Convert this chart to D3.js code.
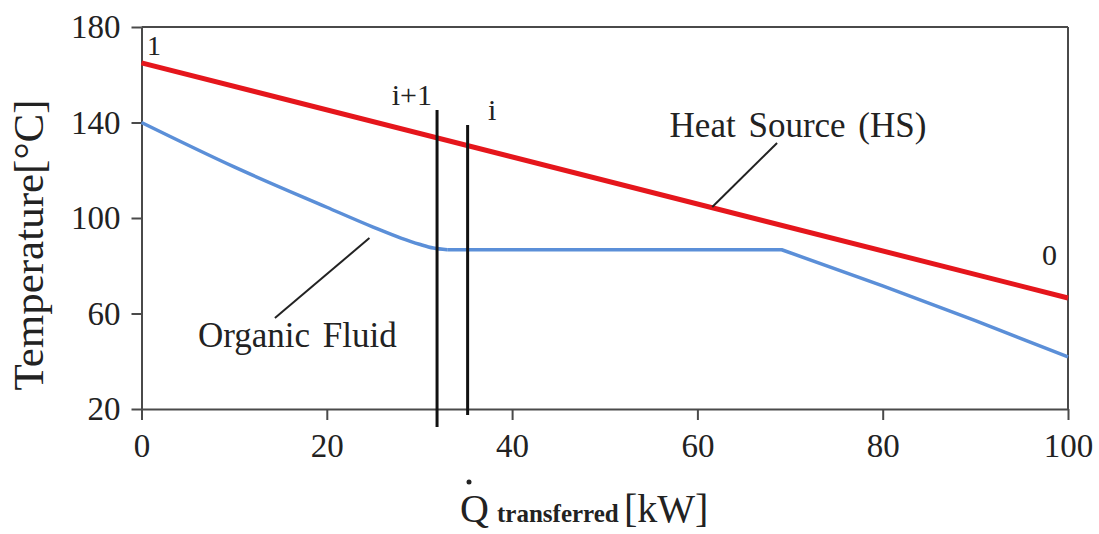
<!DOCTYPE html>
<html>
<head>
<meta charset="utf-8">
<script src="https://cdn.jsdelivr.net/npm/d3@7"></script>
<style>
  body { margin: 0; background: #fff; }
  text { font-family: 'Liberation Serif', 'Times New Roman', serif; fill: #222; }
</style>
</head>
<body>
<svg id="chart"></svg>
<script>
var width = 1099,
    height = 534

// axis ticks
var xTicks = [0, 20, 40, 60, 80, 100]
var yTicks = [20, 60, 100, 140, 180]

// heat source (red), straight line from state 1 to state 0
var hsQ = [0, 100]
var hsT = [165, 66.5]

// organic fluid (blue): curved preheating part, then evaporation plateau and superheat
var ofCurveQ = [0, 10, 20, 25, 28, 30, 31.5, 33]
var ofCurveT = [140, 121.4, 104.5, 96.2, 91.6, 89, 87.4, 86.7]
var ofRestQ = [33, 69.1, 80, 90, 100]
var ofRestT = [86.7, 86.7, 71.6, 57, 41.8]

// vertical markers i+1 and i : q, top T, bottom T
var markQ = [31.9, 35.2]
var markTop = [145.2, 139]
var markBottom = [12.5, 17.5]

var svg = d3.select("#chart")
    .attr("width", width)
    .attr("height", height)

var margin = {left: 141.5, right: 31, top: 27, bottom: 125}

var x = d3.scaleLinear()
    .domain([0, 100])
    .range([margin.left, width - margin.right])
var y = d3.scaleLinear()
    .domain([20, 180])
    .range([height - margin.bottom, margin.top])

var axisColor = "#4a4a4a"

// box (top and right)
svg.append("line")
    .attr("x1", x(0)).attr("x2", x(100))
    .attr("y1", y(180)).attr("y2", y(180))
    .attr("stroke", axisColor).attr("stroke-width", 2)
svg.append("line")
    .attr("x1", x(100)).attr("x2", x(100))
    .attr("y1", y(180)).attr("y2", y(20))
    .attr("stroke", axisColor).attr("stroke-width", 2)

svg.append("g")
    .attr("transform", "translate(0," + y(20) + ")")
    .call(d3.axisBottom(x).tickValues(xTicks).tickSize(11).tickPadding(14).tickSizeOuter(0))
svg.append("g")
    .attr("transform", "translate(" + x(0) + ",0)")
    .call(d3.axisLeft(y).tickValues(yTicks).tickSize(10).tickPadding(11).tickSizeOuter(0))

svg.selectAll(".domain, .tick line")
    .attr("stroke", axisColor)
    .attr("stroke-width", 2)
svg.selectAll(".tick text")
    .style("font-family", "'Liberation Serif', serif")
    .attr("font-size", 33)
    .attr("fill", "#222")

// axis titles
svg.append("text")
    .attr("transform", "translate(43,245) rotate(-90)")
    .attr("text-anchor", "middle")
    .attr("font-size", 43)
    .text("Temperature[°C]")

svg.append("text").attr("x", 460).attr("y", 522).attr("font-size", 40).text("Q")
svg.append("circle").attr("cx", 469).attr("cy", 482).attr("r", 2.5).attr("fill", "#222")
svg.append("text").attr("x", 497).attr("y", 522).attr("font-size", 25)
    .attr("font-weight", "bold").text("transferred")
svg.append("text").attr("x", 624).attr("y", 522).attr("font-size", 40).text("[kW]")

var smooth = d3.line()
    .x(function (d) { return x(d[0]) })
    .y(function (d) { return y(d[1]) })
    .curve(d3.curveMonotoneX)
var line = d3.line()
    .x(function (d) { return x(d[0]) })
    .y(function (d) { return y(d[1]) })

// organic fluid
svg.append("path")
    .datum(d3.zip(ofCurveQ, ofCurveT))
    .attr("d", smooth)
    .attr("fill", "none")
    .attr("stroke", "#5b8fd8")
    .attr("stroke-width", 3.5)
svg.append("path")
    .datum(d3.zip(ofRestQ, ofRestT))
    .attr("d", line)
    .attr("fill", "none")
    .attr("stroke", "#5b8fd8")
    .attr("stroke-width", 3.5)
    .attr("stroke-linejoin", "round")

// heat source
svg.append("path")
    .datum(d3.zip(hsQ, hsT))
    .attr("d", line)
    .attr("fill", "none")
    .attr("stroke", "#e5161c")
    .attr("stroke-width", 5)

// vertical markers
svg.selectAll(".marker")
    .data(markQ)
    .enter().append("line")
    .attr("class", "marker")
    .attr("x1", function (d) { return x(d) })
    .attr("x2", function (d) { return x(d) })
    .attr("y1", function (d, i) { return y(markTop[i]) })
    .attr("y2", function (d, i) { return y(markBottom[i]) })
    .attr("stroke", "#111")
    .attr("stroke-width", 3)

// leader lines for the labels
var leaders = [
    [[68.6, 131.4], [61.6, 104.6]],
    [[14.4, 58.1], [24.6, 91.6]]
]
svg.selectAll(".leader")
    .data(leaders)
    .enter().append("line")
    .attr("class", "leader")
    .attr("x1", function (d) { return x(d[0][0]) })
    .attr("y1", function (d) { return y(d[0][1]) })
    .attr("x2", function (d) { return x(d[1][0]) })
    .attr("y2", function (d) { return y(d[1][1]) })
    .attr("stroke", "#222")
    .attr("stroke-width", 2)

// labels
var labelText = ["1", "i+1", "i", "Heat Source (HS)", "0", "Organic Fluid"]
var labelQ = [0.6, 27.0, 37.4, 57.0, 97.2, 6.1]
var labelT = [168.3, 147.3, 141, 133.9, 80.3, 46]
var labelSize = [28, 30, 30, 35, 30, 35]

svg.selectAll(".label")
    .data(labelText)
    .enter().append("text")
    .attr("class", "label")
    .attr("x", function (d, i) { return x(labelQ[i]) })
    .attr("y", function (d, i) { return y(labelT[i]) })
    .attr("font-size", function (d, i) { return labelSize[i] })
    .attr("word-spacing", 4)
    .text(function (d) { return d })
</script>
</body>
</html>
